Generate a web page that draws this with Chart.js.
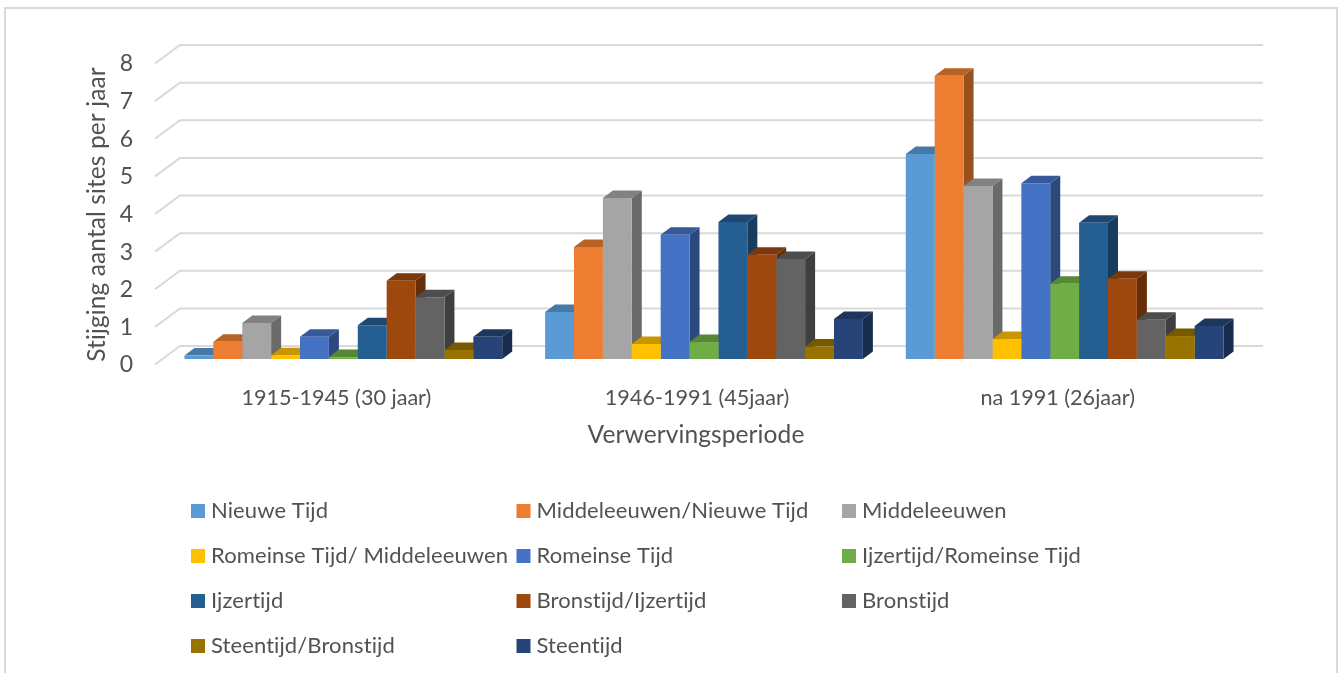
<!DOCTYPE html>
<html>
<head>
<meta charset="utf-8">
<title>Stijging aantal sites per jaar</title>
<script src="https://cdn.jsdelivr.net/npm/chart.js@4"></script>
<style>
    html, body { margin: 0; padding: 0; background: #fff; overflow: hidden; }
    #wrap { position: relative; width: 1338px; height: 673px; }
    #frame { position: absolute; left: 4px; top: 7px; width: 1334px; height: 666px;
             box-sizing: border-box; border: 2px solid #d9d9d9; border-bottom: 0; }
    canvas { position: absolute; left: 0; top: 0; }
</style>
</head>
<body>
<div id="wrap">
    <div id="frame"></div>
    <canvas id="chart" width="1338" height="673"></canvas>
</div>
<script>
const periods = ['1915-1945 (30 jaar)', '1946-1991 (45jaar)', 'na 1991 (26jaar)'];
const yTicks = [0, 1, 2, 3, 4, 5, 6, 7, 8];

const nieuweTijd = [0.09, 1.25, 5.45];
const middeleeuwenNieuweTijd = [0.46, 2.98, 7.53];
const middeleeuwen = [0.96, 4.28, 4.60];
const romeinseMiddeleeuwen = [0.10, 0.40, 0.53];
const romeinseTijd = [0.59, 3.30, 4.67];
const ijzertijdRomeinse = [0.05, 0.45, 2.00];
const ijzertijd = [0.90, 3.64, 3.62];
const bronstijdIjzertijd = [2.08, 2.77, 2.13];
const bronstijd = [1.64, 2.66, 1.04];
const steentijdBronstijd = [0.24, 0.33, 0.61];
const steentijd = [0.59, 1.06, 0.88];

const seriesNames = ['Nieuwe Tijd', 'Middeleeuwen/Nieuwe Tijd', 'Middeleeuwen',
    'Romeinse Tijd/ Middeleeuwen', 'Romeinse Tijd', 'Ijzertijd/Romeinse Tijd',
    'Ijzertijd', 'Bronstijd/Ijzertijd', 'Bronstijd', 'Steentijd/Bronstijd', 'Steentijd'];
const seriesValues = [nieuweTijd, middeleeuwenNieuweTijd, middeleeuwen,
    romeinseMiddeleeuwen, romeinseTijd, ijzertijdRomeinse, ijzertijd,
    bronstijdIjzertijd, bronstijd, steentijdBronstijd, steentijd];
const seriesColors = ['#5B9BD5', '#ED7D31', '#A5A5A5', '#FFC000', '#4472C4', '#70AD47',
    '#255E91', '#9E480E', '#636363', '#997300', '#264478'];

const FONT = 'Lato, Carlito, sans-serif';
const TEXT_COLOR = '#525252';
const GRID_COLOR = '#d9d9d9';

// depth of a bar, and where the walls of the box sit relative to the bar fronts
const BAR_DX = 10, BAR_DY = 7.5;
const WALL = { backDx: 17, backDy: -13, frontDx: -8, frontDy: 5.5, rightDx: 18 };

function shade(hex, factor) {
    const n = parseInt(hex.slice(1), 16);
    const c = [n >> 16, (n >> 8) & 255, n & 255].map(v => Math.round(v * factor));
    return `rgb(${c[0]},${c[1]},${c[2]})`;
}

// Floor/back wall lines behind the bars
const boxGrid = {
    id: 'boxGrid',
    beforeDatasetsDraw(chart) {
        const { ctx, chartArea, scales: { y } } = chart;
        ctx.save();
        ctx.strokeStyle = GRID_COLOR;
        ctx.lineWidth = 2;
        yTicks.forEach(v => {
            const py = y.getPixelForValue(v);
            ctx.beginPath();
            ctx.moveTo(chartArea.left + WALL.frontDx, py + WALL.frontDy);
            ctx.lineTo(chartArea.left + WALL.backDx, py + WALL.backDy);
            ctx.lineTo(chartArea.right + WALL.rightDx, py + WALL.backDy);
            ctx.stroke();
        });
        ctx.restore();
    }
};

// Top and side faces of each bar; the library paints the front faces over these
const barFaces = {
    id: 'barFaces',
    beforeDatasetsDraw(chart) {
        const { ctx } = chart;
        chart.data.datasets.forEach((ds, i) => {
            chart.getDatasetMeta(i).data.forEach(bar => {
                const { x, y, base, width } = bar.getProps(['x', 'y', 'base', 'width'], true);
                const l = x - width / 2, r = x + width / 2;
                ctx.fillStyle = shade(ds.backgroundColor, 0.64);
                ctx.beginPath();
                ctx.moveTo(r, y);
                ctx.lineTo(r + BAR_DX, y - BAR_DY);
                ctx.lineTo(r + BAR_DX, base - BAR_DY);
                ctx.lineTo(r, base);
                ctx.closePath();
                ctx.fill();
                ctx.fillStyle = shade(ds.backgroundColor, 0.78);
                ctx.beginPath();
                ctx.moveTo(l, y);
                ctx.lineTo(l + BAR_DX, y - BAR_DY);
                ctx.lineTo(r + BAR_DX, y - BAR_DY);
                ctx.lineTo(r, y);
                ctx.closePath();
                ctx.fill();
            });
        });
    }
};

// Axis titles and the three column legend
const labelsLayer = {
    id: 'labelsLayer',
    afterDraw(chart) {
        const { ctx } = chart;
        ctx.save();
        // a small spacing also keeps the "ti" pairs from joining into a ligature
        ctx.letterSpacing = '0.1px';
        ctx.fillStyle = TEXT_COLOR;
        ctx.textBaseline = 'middle';
        ctx.textAlign = 'center';
        ctx.font = `24.5px ${FONT}`;
        ctx.fillText('Verwervingsperiode', 696, 435);
        ctx.save();
        ctx.translate(97, 214.5);
        ctx.rotate(-Math.PI / 2);
        ctx.fillText('Stijging aantal sites per jaar', 0, 0);
        ctx.restore();

        ctx.textAlign = 'left';
        ctx.font = `22px ${FONT}`;
        seriesNames.forEach((name, i) => {
            const col = i % 3, row = Math.floor(i / 3);
            const x = 191 + col * 325.5;
            const y = 511 + row * 45;
            ctx.fillStyle = seriesColors[i];
            ctx.fillRect(x, y - 7, 14, 14);
            ctx.fillStyle = TEXT_COLOR;
            ctx.fillText(name, x + 20, y);
        });
        ctx.restore();
    }
};

new Chart(document.getElementById('chart'), {
    type: 'bar',
    data: {
        labels: periods,
        datasets: seriesNames.map((name, i) => ({
            label: name,
            data: seriesValues[i],
            backgroundColor: seriesColors[i],
            categoryPercentage: 0.881,
            barPercentage: 1
        }))
    },
    options: {
        responsive: false,
        animation: false,
        layout: { padding: { top: 58, right: 93, left: 0, bottom: 0 } },
        plugins: {
            legend: { display: false },
            tooltip: { enabled: false }
        },
        scales: {
            x: {
                grid: { display: false },
                border: { display: false },
                ticks: {
                    color: TEXT_COLOR,
                    font: { family: FONT, size: 21.6 },
                    padding: 18,
                    labelOffset: -7,
                    maxRotation: 0
                },
                afterFit(scale) { scale.height = 314; }
            },
            y: {
                min: 0,
                max: 8,
                grid: { display: false },
                border: { display: false },
                ticks: {
                    stepSize: 1,
                    color: TEXT_COLOR,
                    font: { family: FONT, size: 23 },
                    padding: 22,
                    labelOffset: 6
                },
                afterFit(scale) { scale.width = 163; }
            }
        }
    },
    plugins: [boxGrid, barFaces, labelsLayer]
});
</script>
</body>
</html>
